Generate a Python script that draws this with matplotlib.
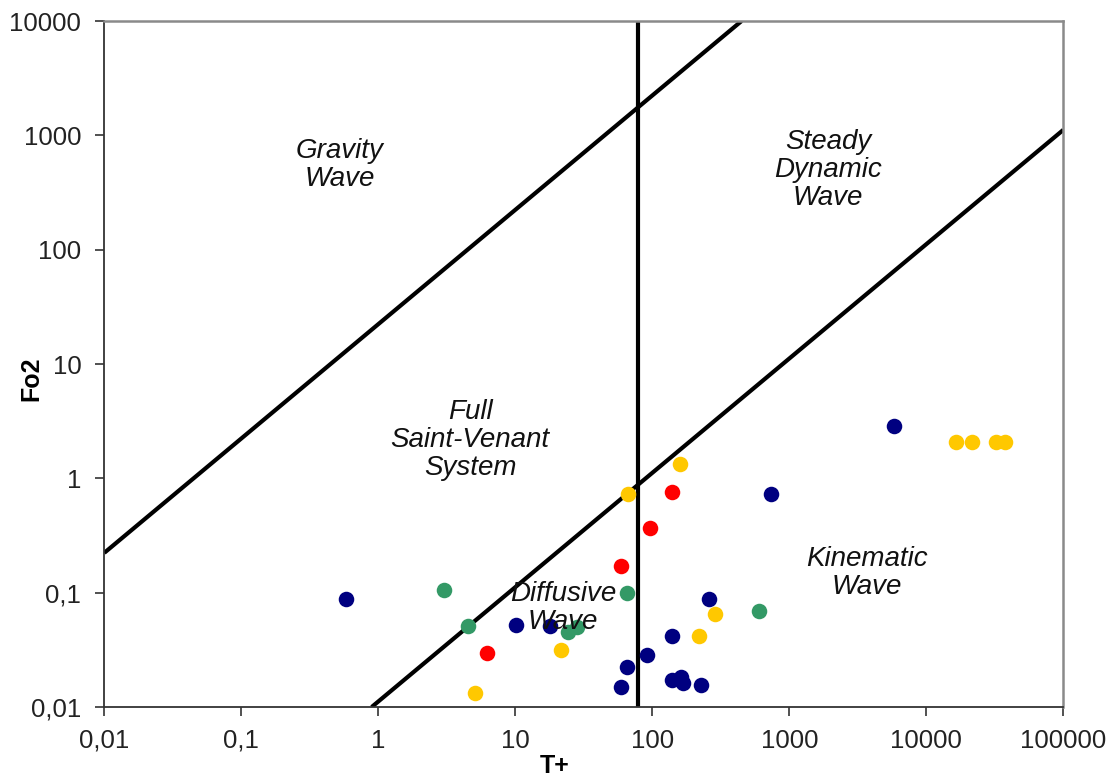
import matplotlib
matplotlib.use("Agg")
import matplotlib.pyplot as plt
from matplotlib.ticker import FixedLocator, NullLocator

plt.rcParams['font.family'] = ['Liberation Sans', 'DejaVu Sans']

# --- data ---
navy_T = [0.578, 10.2, 17.9, 58.8, 65.7, 91, 138.6, 138.6, 161, 168, 225.6, 260.6, 731, 5810]
navy_Fo2 = [0.0875, 0.0521, 0.0514, 0.01486, 0.0225, 0.0285, 0.0415, 0.0172, 0.0182, 0.0163, 0.0155, 0.0875, 0.726, 2.87]

red_T = [6.25, 58.8, 96.2, 139.3]
red_Fo2 = [0.0299, 0.172, 0.366, 0.755]

green_T = [3.03, 4.54, 24.4, 28.4, 65.0, 603]
green_Fo2 = [0.105, 0.0511, 0.045, 0.0504, 0.0987, 0.0695]

gold_T = [5.08, 21.4, 66.8, 159, 219, 289, 16400, 21570, 32100, 37750]
gold_Fo2 = [0.0133, 0.0315, 0.73, 1.33, 0.0418, 0.0647, 2.09, 2.09, 2.09, 2.09]

# boundary lines
upper_line_T = [0.01, 448]
upper_line_Fo2 = [0.223, 10000]
lower_line_T = [0.895, 100000]
lower_line_Fo2 = [0.01, 1117]
vertical_T = 79

tick_values = [0.01, 0.1, 1, 10, 100, 1000, 10000, 100000]
x_tick_labels = ['0,01', '0,1', '1', '10', '100', '1000', '10000', '100000']
y_tick_values = [0.01, 0.1, 1, 10, 100, 1000, 10000]
y_tick_labels = ['0,01', '0,1', '1', '10', '100', '1000', '10000']

regions = [
    ("Gravity\nWave", 0.525, 551),
    ("Steady\nDynamic\nWave", 1920, 498),
    ("Full\nSaint-Venant\nSystem", 4.67, 2.16),
    ("Diffusive\nWave", 22.3, 0.0735),
    ("Kinematic\nWave", 3690, 0.1486),
]

fig = plt.figure(figsize=(11.14, 7.76), dpi=100)
ax = fig.add_axes([0.0936, 0.0889, 0.9545 - 0.0936, 0.9729 - 0.0889])
ax.set_xscale('log')
ax.set_yscale('log')
ax.set_xlim(0.01, 100000)
ax.set_ylim(0.01, 10000)

ax.plot(upper_line_T, upper_line_Fo2, color='black', lw=3, zorder=2, solid_capstyle='butt')
ax.plot(lower_line_T, lower_line_Fo2, color='black', lw=3, zorder=2, solid_capstyle='butt')
ax.axvline(vertical_T, color='black', lw=3, zorder=2)

ms = 125
ax.scatter(navy_T, navy_Fo2, s=ms, color='#000080', zorder=3, linewidths=0)
ax.scatter(red_T, red_Fo2, s=ms, color='#FF0000', zorder=3, linewidths=0)
ax.scatter(green_T, green_Fo2, s=ms, color='#339966', zorder=3, linewidths=0)
ax.scatter(gold_T, gold_Fo2, s=ms, color='#FFC800', zorder=3, linewidths=0)

for txt, x, y in regions:
    ax.text(x, y, txt, ha='center', va='center', fontsize=20, style='italic',
            color='#111111', linespacing=1.1, zorder=4)

ax.xaxis.set_major_locator(FixedLocator(tick_values))
ax.xaxis.set_minor_locator(NullLocator())
ax.set_xticklabels(x_tick_labels)
ax.yaxis.set_major_locator(FixedLocator(y_tick_values))
ax.yaxis.set_minor_locator(NullLocator())
ax.set_yticklabels(y_tick_labels)

ax.tick_params(axis='both', direction='out', length=6.5, width=1.2, color='#333333',
               labelsize=18.5, labelcolor='#222222')
ax.tick_params(axis='x', pad=9)
ax.tick_params(axis='y', pad=10)

for s in ['left', 'bottom']:
    ax.spines[s].set_color('#333333')
    ax.spines[s].set_linewidth(1.3)
for s in ['top', 'right']:
    ax.spines[s].set_color('#8a8a8a')
    ax.spines[s].set_linewidth(1.8)

ax.set_xlabel('T+', fontsize=18, fontweight='bold')
ax.xaxis.set_label_coords(0.47, -0.068)
ax.set_ylabel('Fo2', fontsize=18, fontweight='bold')
ax.yaxis.set_label_coords(-0.064, 0.478)

fig.savefig('out.png', dpi=100)
